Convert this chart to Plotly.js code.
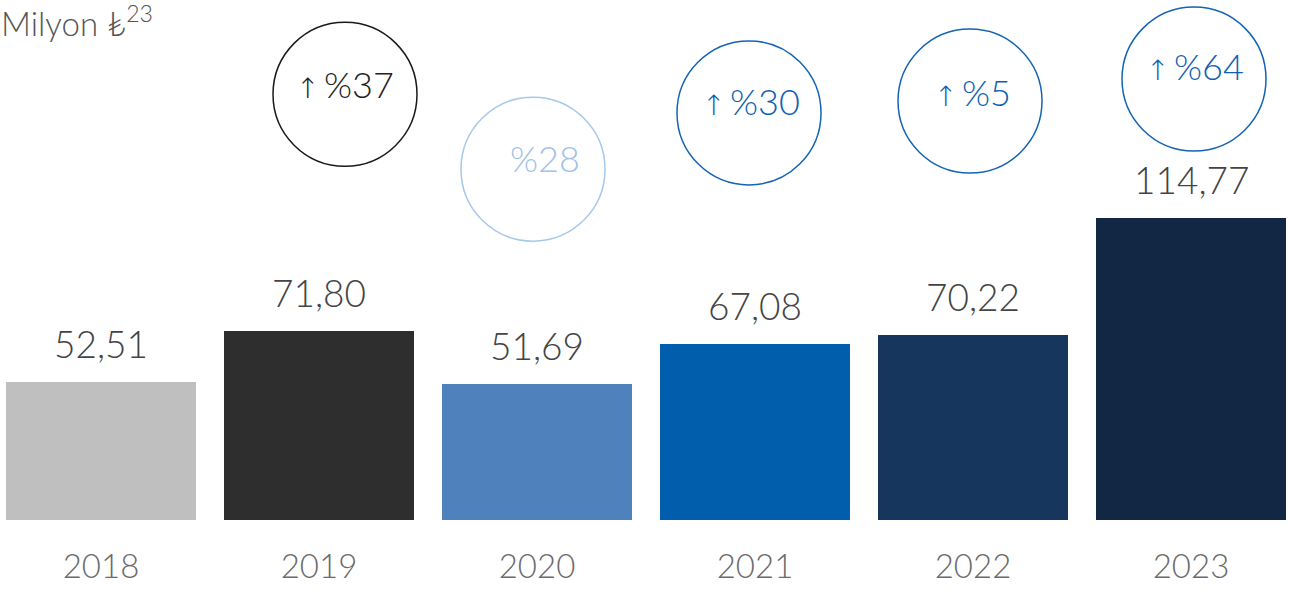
<!DOCTYPE html>
<html><head><meta charset="utf-8">
<script src="https://cdn.plot.ly/plotly-3.0.1.min.js"></script>
<style>html,body{margin:0;padding:0;background:#fff;}#chart{width:1289px;height:590px;}</style>
</head><body><div id="chart"></div>
<script>
// Data
const years = ['2018','2019','2020','2021','2022','2023'];
const values = [52.51, 71.80, 51.69, 67.08, 70.22, 114.77];
const valueLabels = ['52,51','71,80','51,69','67,08','70,22','114,77'];
const changeIdx = [1, 2, 3, 4, 5];
const changeLabels = ['%37','%28','%30','%5','%64'];
const changeUp = [true, false, true, true, true];

// Styles / positions
const barColors = ['#bfbfbf','#2e2e2e','#4f81bd','#005eac','#17365d','#112744'];
const circleColors = ['#1a1a1a','#a6c8ea','#1464b4','#1464b4','#1464b4'];
const circleTextColors = ['#222222','#9fc2e6','#0f5fb0','#0f5fb0','#0f5fb0'];
const circleY = [162.0, 133.5, 154.9, 159.4, 167.8];
const circleDx = [26, -4, -6, -3, 3];
const textY = [165.8, 137.8, 159.3, 162.7, 172.6];
const textDx = [26, 8, -4, -1, 4];
const R = 72;
const xs = years.map((_, i) => i);

const font = 'Lato, "Open Sans", "DejaVu Sans", sans-serif';

const trace = {
  type: 'bar', x: xs, y: values,
  marker: {color: barColors, line: {width: 0}},
  width: 190/218, hoverinfo: 'none', showlegend: false
};

const shapes = changeIdx.map((xi, i) => ({
  type: 'circle', xref: 'x', yref: 'y', xsizemode: 'pixel', ysizemode: 'pixel',
  xanchor: xi, yanchor: circleY[i],
  x0: circleDx[i] - R, x1: circleDx[i] + R, y0: -R, y1: R,
  line: {color: circleColors[i], width: 1.5}, fillcolor: 'rgba(0,0,0,0)'
}));

const annotations = [];
xs.forEach((xi, i) => {
  annotations.push({
    x: xi, y: values[i], xref: 'x', yref: 'y', text: valueLabels[i], showarrow: false,
    yanchor: 'bottom', yshift: 14,
    font: {family: font, size: 37, color: '#444444', weight: 300}
  });
});
changeIdx.forEach((xi, i) => {
  const arrow = changeUp[i] ? '<span style="font-family:\'DejaVu Sans\';font-size:28px">↑</span>\u2009' : '';
  annotations.push({
    x: xi, y: textY[i], xref: 'x', yref: 'y', text: arrow + changeLabels[i], showarrow: false,
    xshift: textDx[i], yanchor: 'middle',
    font: {family: font, size: 36, color: circleTextColors[i], weight: 300}
  });
});
annotations.push({
  xref: 'paper', yref: 'paper', x: 0, y: 1, xanchor: 'left', yanchor: 'top',
  xshift: -1, yshift: 3,
  text: 'Milyon ₺<sup>23</sup>', showarrow: false,
  font: {family: font, size: 33, color: '#555555', weight: 300}
});

const layout = {
  width: 1289, height: 590,
  margin: {l: 0, r: 0, t: 0, b: 70},
  paper_bgcolor: '#ffffff', plot_bgcolor: '#ffffff',
  bargap: 0,
  xaxis: {range: [-101/218, 5 + 98/218], showgrid: false, zeroline: false,
    tickmode: 'array', tickvals: xs, ticktext: years, ticklabelstandoff: 24,
    showline: false, ticks: '', tickfont: {family: font, size: 33, color: '#6b6b6b', weight: 300}, fixedrange: true},
  yaxis: {range: [0, 520/2.628], visible: false, fixedrange: true},
  shapes: shapes, annotations: annotations
};

Plotly.newPlot('chart', [trace], layout, {staticPlot: true, displayModeBar: false});
</script></body></html>
